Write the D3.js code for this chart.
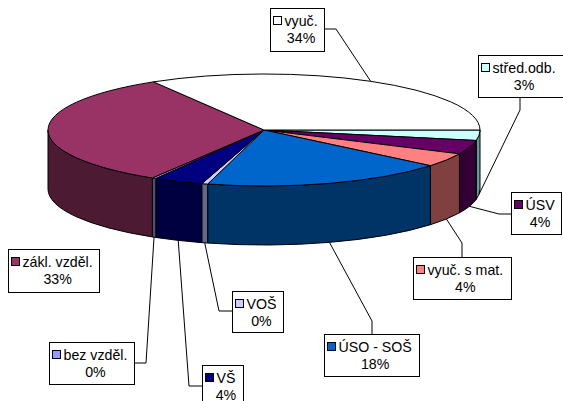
<!DOCTYPE html>
<html><head><meta charset="utf-8">
<script src="https://cdn.jsdelivr.net/npm/d3@7"></script>
<style>html,body{margin:0;padding:0;background:#fff}svg{display:block}text{font-family:"Liberation Sans",Arial,sans-serif;font-size:14.2px;fill:#000}</style>
</head><body><svg id="c" width="563" height="401"></svg>
<script>
// order: clockwise from the 3 o'clock position
const categories = ["střed.odb.","ÚSV","vyuč. s mat.","ÚSO - SOŠ","VOŠ","VŠ","bez vzděl.","zákl. vzděl.","vyuč."];
const values = [3.0,4.0,4.0,18.2,0.45,3.7,0.3,32.8,33.55];
const topColors = ["#ccffff","#660066","#ff8080","#0066cc","#ccccff","#000080","#9999ff","#993366","#ffffff"];
const sideColors = ["#669999","#330033","#804040","#003366","#66668c","#000040","#4d4d80","#4d1a33","#808080"];
// label layout, same order: box [x,y,w,h], elbow [x,y] (null = no leader), box side the leader leaves from
const boxes = [[478,55,85,42],[511,192,50,42],[413,257,98,42],[324,334,95,42],[232,291,51,41],[202,365,41,52],[49,342,85,42],[8,249,91,43],[270,8,54,43]];
const elbows = [[520,110],[499,214],[462,243],[372,321],[219,311],[189,386],[146,363],null,[336,29]];
const anchors = ["bottom","left","top","top","left","left","right",null,"right"];

const cx=264, cy=130, rx=216, ry=56, depth=59;
const svg=d3.select("#c");
const pie=d3.pie().sort(null).startAngle(0).endAngle(2*Math.PI);
const arcs=pie(values);
const px=a=>cx+rx*Math.cos(a), py=a=>cy+ry*Math.sin(a);
const large=(a,b)=>(b-a)>Math.PI?1:0;

// side walls (front half only)
const g=svg.append("g").attr("stroke","#000").attr("stroke-width",1).attr("stroke-linejoin","round");
arcs.forEach((d,i)=>{
  const a=d.startAngle,b=Math.min(d.endAngle,Math.PI);
  if(a>=Math.PI) return;
  g.append("path").attr("fill",sideColors[i])
   .attr("d",`M${px(a)},${py(a)}A${rx},${ry} 0 0 1 ${px(b)},${py(b)}L${px(b)},${py(b)+depth}A${rx},${ry} 0 0 0 ${px(a)},${py(a)+depth}Z`);
});
// top faces
arcs.forEach((d,i)=>{
  const a=d.startAngle,b=d.endAngle;
  g.append("path").attr("fill",topColors[i])
   .attr("d",`M${cx},${cy}L${px(a)},${py(a)}A${rx},${ry} 0 ${large(a,b)} 1 ${px(b)},${py(b)}Z`);
});
// leaders
arcs.forEach((d,i)=>{
  if(!elbows[i]) return;
  const m=(d.startAngle+d.endAngle)/2, [x,y,w,h]=boxes[i], [ex,ey]=elbows[i];
  const end=[px(m),py(m)+(Math.sin(m)>0?depth:0)];
  const start=anchors[i]==="left"?[x,ey]:anchors[i]==="right"?[x+w,ey]:anchors[i]==="top"?[ex,y]:[ex,y+h];
  svg.append("path").attr("fill","none").attr("stroke","#000").attr("d",d3.line()([start,[ex,ey],end]));
});
// labels
const fmt=d3.format(".0f");
categories.forEach((c,i)=>{
  const [x,y,w,h]=boxes[i];
  const l=svg.append("g").attr("transform",`translate(${x},${y})`);
  l.append("rect").attr("x",.5).attr("y",.5).attr("width",w).attr("height",h).attr("fill","#fff").attr("stroke","#000");
  const t=l.append("text").attr("x",14.5).attr("y",17.5).text(c);
  const tw=t.node().getComputedTextLength();
  l.append("rect").attr("x",3.5).attr("y",8.5).attr("width",8).attr("height",8).attr("fill",topColors[i]).attr("stroke","#000");
  l.append("text").attr("x",14.5+tw/2).attr("y",34.5).attr("text-anchor","middle").text(fmt(values[i])+"%");
});
</script></body></html>
